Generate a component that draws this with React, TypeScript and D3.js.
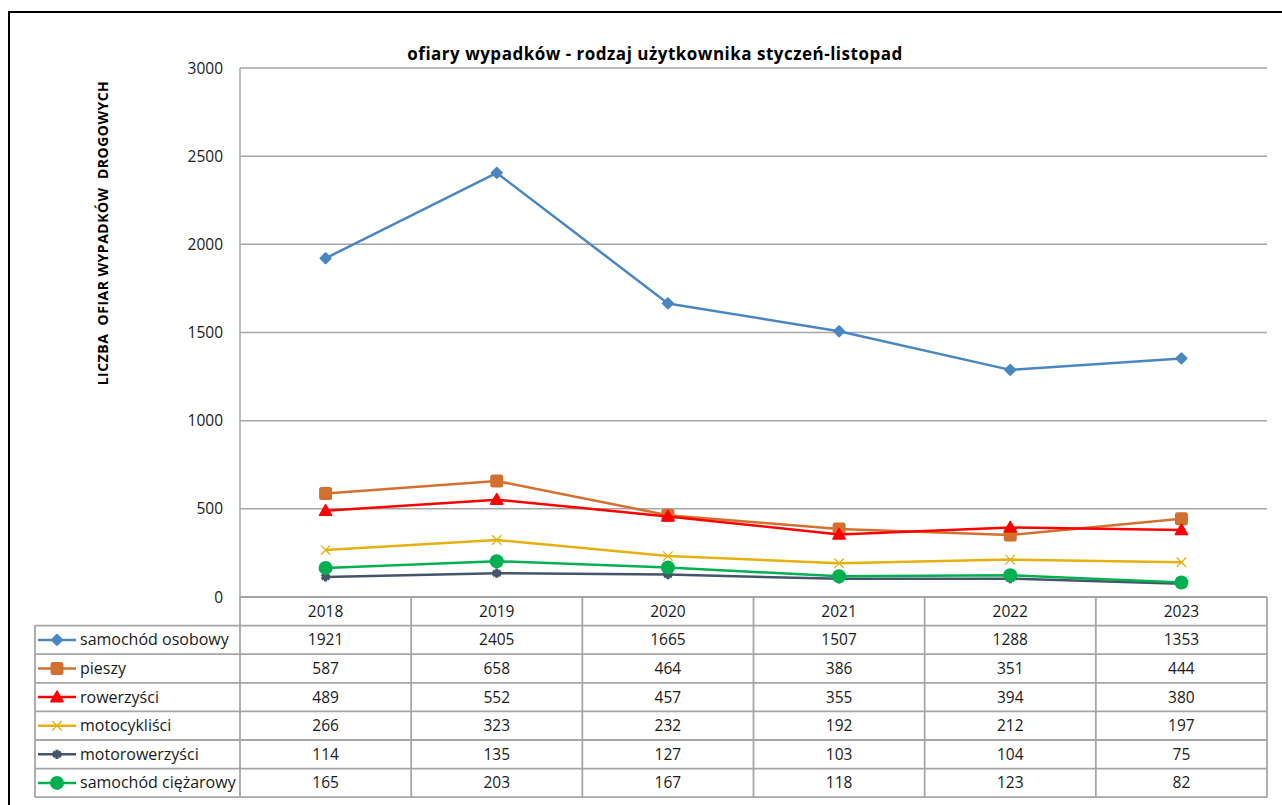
import React from "react";
import * as d3 from "d3";

const years = ["2018", "2019", "2020", "2021", "2022", "2023"];
const seriesNames = [
  "samochód osobowy",
  "pieszy",
  "rowerzyści",
  "motocykliści",
  "motorowerzyści",
  "samochód ciężarowy",
];
const osobowy = [1921, 2405, 1665, 1507, 1288, 1353];
const pieszy = [587, 658, 464, 386, 351, 444];
const rowerzysci = [489, 552, 457, 355, 394, 380];
const motocyklisci = [266, 323, 232, 192, 212, 197];
const motorowerzysci = [114, 135, 127, 103, 104, 75];
const ciezarowy = [165, 203, 167, 118, 123, 82];
const yTicks = [0, 500, 1000, 1500, 2000, 2500, 3000];

const colors = ["#4a86c0", "#d2712f", "#ff0000", "#e6b010", "#44546a", "#00b050"];
const markers = ["diamond", "square", "triangle", "x", "star", "circle"];
const allValues = [osobowy, pieszy, rowerzysci, motocyklisci, motorowerzysci, ciezarowy];

const FONT = "'Open Sans', sans-serif";
const GRID = "#a6a6a6";
const TEXT = "#1a1a1a";

// plot area (Excel layout)
const PLOT = { left: 240, right: 1267, top: 68, bottom: 597 };
const TABLE_LEFT = 35;
const ROW_H = 28.6;

const Marker = ({ type, color, x, y }: { type: string; color: string; x: number; y: number }) => {
  if (type === "diamond")
    return <rect x={x - 4.6} y={y - 4.6} width={9.2} height={9.2} rx={1.2} fill={color} transform={`rotate(45 ${x} ${y})`} />;
  if (type === "square")
    return <rect x={x - 6.5} y={y - 6.5} width={13} height={13} rx={2.5} fill={color} />;
  if (type === "triangle")
    return <path d={d3.symbol(d3.symbolTriangle, 65)()!} transform={`translate(${x},${y + 1})`} fill={color} stroke={color} strokeWidth={1.5} strokeLinejoin="round" />;
  if (type === "x")
    return <path d={d3.symbol(d3.symbolTimes, 60)()!} transform={`translate(${x},${y})`} fill="none" stroke={color} strokeWidth={1.3} />;
  if (type === "star")
    return <path d={d3.symbol(d3.symbolAsterisk, 60)()!} transform={`translate(${x},${y})`} fill="none" stroke={color} strokeWidth={3.2} />;
  return <circle cx={x} cy={y} r={7} fill={color} />;
};

const App = () => {
  const xScale = d3.scaleBand().domain(years).range([PLOT.left, PLOT.right]);
  const yScale = d3.scaleLinear().domain([0, 3000]).range([PLOT.bottom, PLOT.top]);
  const cx = (yr: string) => (xScale(yr) ?? 0) + xScale.bandwidth() / 2;

  const line = d3
    .line<number>()
    .x((_, i) => cx(years[i]))
    .y((d) => yScale(d));

  const tableTop = PLOT.bottom;
  const tableBottom = tableTop + ROW_H * (seriesNames.length + 1);

  return (
    <svg width={1282} height={805} style={{ position: "absolute", left: 0, top: 0, background: "#fff" }}>
      {/* outer chart border */}
      <path d="M9,805 V12 H1282" fill="none" stroke="#000" strokeWidth={2} />

      <text x={655} y={60} textAnchor="middle" fontFamily={FONT} fontWeight="bold" fontSize={17} letterSpacing={0.5} fill="#000">
        ofiary wypadków - rodzaj użytkownika styczeń-listopad
      </text>

      <text
        transform={`translate(108,233) rotate(-90)`}
        textAnchor="middle"
        fontFamily={FONT}
        fontWeight="bold"
        fontSize={14}
        letterSpacing={0.5}
        fill="#000"
        style={{ whiteSpace: "pre" }}
      >
        {"LICZBA  OFIAR WYPADKÓW  DROGOWYCH"}
      </text>

      {/* gridlines */}
      {yTicks.map((t) => (
        <g key={t}>
          {t > 0 && <line x1={PLOT.left} x2={PLOT.right} y1={yScale(t)} y2={yScale(t)} stroke={GRID} strokeWidth={1.5} />}
          <text x={223} y={yScale(t) + 5.5} textAnchor="end" fontFamily={FONT} fontSize={15.5} fill={TEXT}>
            {t}
          </text>
        </g>
      ))}
      <line x1={PLOT.left} x2={PLOT.left} y1={PLOT.top} y2={PLOT.bottom} stroke={GRID} strokeWidth={1.5} />

      {/* table grid */}
      <g stroke={GRID} strokeWidth={1.8} fill="none">
        <line x1={PLOT.left} x2={PLOT.right} y1={tableTop} y2={tableTop} />
        {d3.range(1, seriesNames.length + 2).map((i) => (
          <line key={i} x1={TABLE_LEFT} x2={PLOT.right} y1={tableTop + i * ROW_H} y2={tableTop + i * ROW_H} />
        ))}
        <line x1={TABLE_LEFT} x2={TABLE_LEFT} y1={tableTop + ROW_H} y2={tableBottom} />
        {years.map((yr) => (
          <line key={yr} x1={xScale(yr)} x2={xScale(yr)} y1={tableTop} y2={tableBottom} />
        ))}
        <line x1={PLOT.right} x2={PLOT.right} y1={tableTop} y2={tableBottom} />
      </g>

      {years.map((yr) => (
        <text key={yr} x={cx(yr)} y={tableTop + ROW_H / 2 + 5.5} textAnchor="middle" fontFamily={FONT} fontSize={15.5} fill={TEXT}>
          {yr}
        </text>
      ))}

      {seriesNames.map((name, s) => {
        const rowY = tableTop + ROW_H * (s + 1) + ROW_H / 2;
        return (
          <g key={name}>
            <line x1={38} x2={76} y1={rowY} y2={rowY} stroke={colors[s]} strokeWidth={2.5} />
            <Marker type={markers[s]} color={colors[s]} x={57} y={rowY} />
            <text x={80} y={rowY + 5.5} fontFamily={FONT} fontSize={16} fill={TEXT}>
              {name}
            </text>
            {allValues[s].map((v, i) => (
              <text key={i} x={cx(years[i])} y={rowY + 5.5} textAnchor="middle" fontFamily={FONT} fontSize={15.5} fill={TEXT}>
                {v}
              </text>
            ))}
          </g>
        );
      })}

      {/* series */}
      {allValues.map((vals, s) => (
        <g key={s}>
          <path d={line(vals)!} fill="none" stroke={colors[s]} strokeWidth={2.5} strokeLinejoin="round" />
          {vals.map((v, i) => (
            <Marker key={i} type={markers[s]} color={colors[s]} x={cx(years[i])} y={yScale(v)} />
          ))}
        </g>
      ))}
    </svg>
  );
};

export default App;
